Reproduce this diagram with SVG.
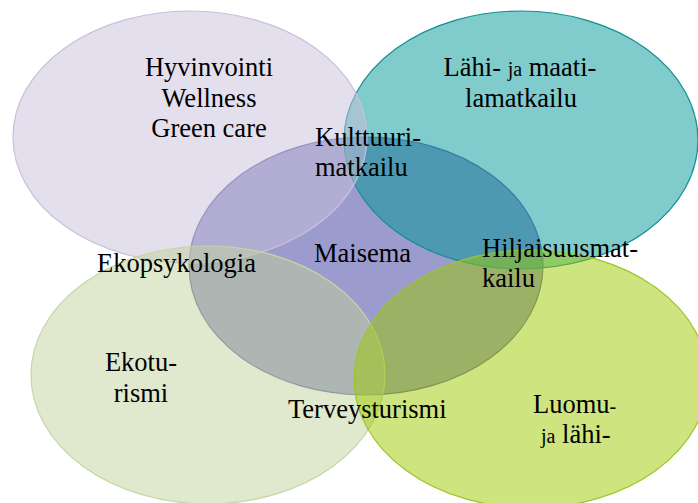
<svg xmlns="http://www.w3.org/2000/svg" width="698" height="503" viewBox="0 0 698 503">
<style>
  text { font-family: "Liberation Serif", "Times New Roman", serif; font-size: 26.5px; fill: #000; }
  .c { text-anchor: middle; }
  .sm { font-size: 20px; }
  ellipse { stroke-width: 1.2; }
</style>
<rect width="698" height="503" fill="#ffffff"/>
<g id="maisema">
  <ellipse cx="366" cy="266" rx="177" ry="129" fill="#37379b" fill-opacity="0.5" stroke="#4b4b96" stroke-opacity="0.8"/>
</g>
<g id="lahi-maatila">
  <ellipse cx="521" cy="140" rx="177" ry="129" fill="#019797" fill-opacity="0.5" stroke="#118f93"/>
</g>
<g id="hyvinvointi">
  <ellipse cx="190" cy="137" rx="177" ry="126" fill="#c9bfd9" fill-opacity="0.5" stroke="#c9c0dc"/>
</g>
<g id="ekoturismi">
  <ellipse cx="208" cy="375" rx="177" ry="129" fill="#c1d19b" fill-opacity="0.5" stroke="#c6d6a6"/>
</g>
<g id="luomu">
  <ellipse cx="531" cy="379" rx="177" ry="129" fill="#9bc900" fill-opacity="0.5" stroke="#9cc62a"/>
</g>
<g id="labels">
  <text class="c" x="209" y="76">Hyvinvointi</text>
  <text class="c" x="209" y="107">Wellness</text>
  <text class="c" x="209" y="137">Green care</text>
  <text class="c" x="520" y="76">Lähi- <tspan class="sm">ja</tspan> maati-</text>
  <text class="c" x="521" y="107">lamatkailu</text>
  <text x="315" y="146">Kulttuuri-</text>
  <text x="315" y="176">matkailu</text>
  <text x="314" y="262">Maisema</text>
  <text x="97" y="272">Ekopsykologia</text>
  <text x="482" y="257">Hiljaisuusmat-</text>
  <text x="482" y="287">kailu</text>
  <text class="c" x="141" y="371">Ekotu-</text>
  <text class="c" x="141" y="402">rismi</text>
  <text x="288" y="418">Terveysturismi</text>
  <text x="533" y="413">Luomu<tspan class="sm">-</tspan></text>
  <text x="541" y="443"><tspan class="sm">ja</tspan> lähi-</text>
</g>
</svg>
